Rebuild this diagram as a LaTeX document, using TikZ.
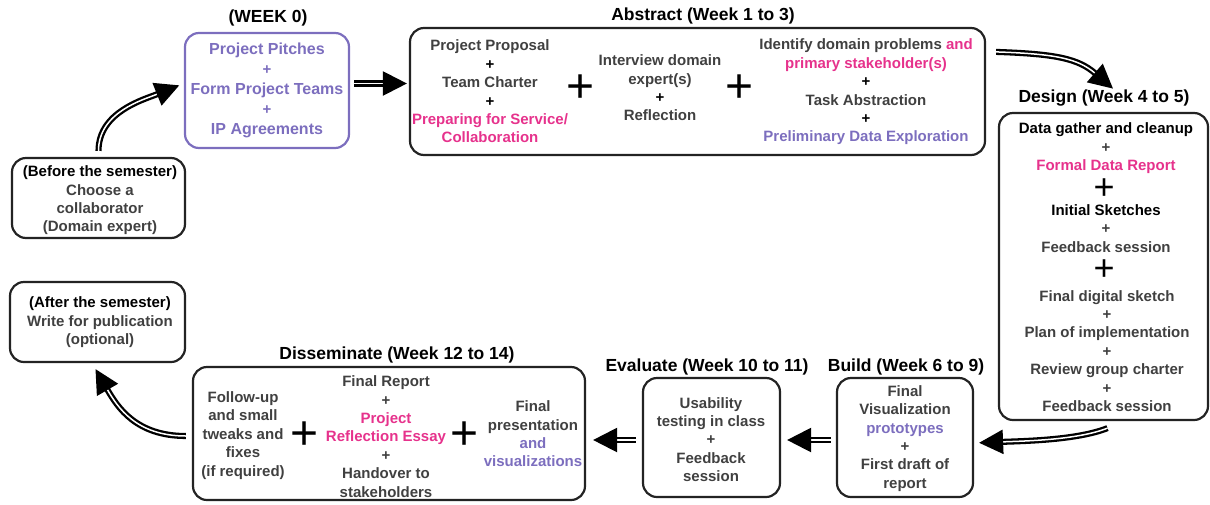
\documentclass[tikz,border=0pt]{standalone}
\usepackage{fontspec}
\setmainfont{Liberation Sans}
\usetikzlibrary{arrows.meta,calc}
\definecolor{vpurple}{RGB}{124,110,190}
\definecolor{vpink}{RGB}{230,50,140}
\definecolor{vgray}{RGB}{64,64,64}
\definecolor{vline}{RGB}{35,35,35}
\newcommand{\smallplus}{{\fontsize{15}{15}\selectfont +}}
\begin{document}
\begin{tikzpicture}[x=1pt,y=-1pt,
  box/.style={draw=vline, line width=2.2pt, rounded corners=14pt, inner sep=0pt},
  txt/.style={align=center, font=\bfseries\fontsize{15}{18.4}\selectfont, text=vgray, inner sep=0pt},
  ttl/.style={font=\bfseries\fontsize{17.5}{19}\selectfont, text=black, inner sep=0pt},
  bigplus/.style={font=\fontsize{48}{48}\selectfont, text=black, inner sep=0pt},
  arr/.style={draw=black, line width=2.3pt, double=white, double distance=1.5pt, -{Triangle[length=24pt,width=24pt]}},
]
\useasboundingbox (0,0) rectangle (1210,504);

% boxes
\node[box, minimum width=173pt, minimum height=80pt] (before) at (98.5,198) {};
\node[box, draw=vpurple, minimum width=164pt, minimum height=115pt] (week0) at (267,90.5) {};
\node[box, minimum width=575pt, minimum height=127pt] (abstract) at (697.5,91.5) {};
\node[box, minimum width=209pt, minimum height=307pt] (design) at (1103.5,266.5) {};
\node[box, minimum width=136pt, minimum height=119pt] (build) at (905,437.5) {};
\node[box, minimum width=137pt, minimum height=119pt] (evaluate) at (711.5,437.5) {};
\node[box, minimum width=392pt, minimum height=133pt] (dissem) at (389,433.5) {};
\node[box, minimum width=175pt, minimum height=80pt] (after) at (97.5,322) {};

% titles
\node[ttl] (t0) at (268,18) {(WEEK 0)};
\node[ttl] (tabs) at (703,16) {Abstract (Week 1 to 3)};
\node[ttl] (tdes) at (1104,98) {Design (Week 4 to 5)};
\node[ttl] (tbld) at (906,367) {Build (Week 6 to 9)};
\node[ttl] (teval) at (707,367) {Evaluate (Week 10 to 11)};
\node[ttl] (tdis) at (397,355) {Disseminate (Week 12 to 14)};

% before / after
\node[txt] (beforetxt) at (100,200.5) {\textcolor{black}{(Before the semester)}\\Choose a\\collaborator\\(Domain expert)};
\node[txt] (aftertxt) at (100,322.5) {\textcolor{black}{(After the semester)}\\Write for publication\\(optional)};

% week 0
\node[txt, text=vpurple, font=\bfseries\fontsize{16}{20}\selectfont] (w0txt) at (267,90) {Project Pitches\\\smallplus\\Form Project Teams\\\smallplus\\IP Agreements};

% abstract
\node[txt] (abs1) at (490,91.5) {Project Proposal\\\textcolor{black}{\smallplus}\\Team Charter\\\textcolor{black}{\smallplus}\\\textcolor{vpink}{Preparing for Service/}\\\textcolor{vpink}{Collaboration}};
\node[bigplus] (absp1) at (581,89) {+};
\node[txt] (abs2) at (660,88) {Interview domain\\expert(s)\\\textcolor{black}{\smallplus}\\Reflection};
\node[bigplus] (absp2) at (740,89) {+};
\node[txt] (abs3) at (866,92) {Identify domain problems \textcolor{vpink}{and}\\\textcolor{vpink}{primary stakeholder(s)}\\\textcolor{black}{\smallplus}\\Task Abstraction\\\textcolor{black}{\smallplus}\\\textcolor{vpurple}{Preliminary Data Exploration}};

% design
\node[txt] (des1) at (1106,148.5) {\textcolor{black}{Data gather and cleanup}\\\smallplus\\\textcolor{vpink}{Formal Data Report}};
\node[bigplus, font=\fontsize{36}{36}\selectfont] (desp1) at (1104,189) {+};
\node[txt] (des2) at (1106,228.5) {\textcolor{black}{Initial Sketches}\\\smallplus\\Feedback session};
\node[bigplus, font=\fontsize{36}{36}\selectfont] (desp2) at (1104,270) {+};
\node[txt] (des3) at (1107,351) {Final digital sketch\\\smallplus\\Plan of implementation\\\smallplus\\Review group charter\\\smallplus\\Feedback session};

% build / evaluate
\node[txt] (bldtxt) at (905,438.5) {Final\\Visualization\\\textcolor{vpurple}{prototypes}\\\smallplus\\First draft of\\report};
\node[txt] (evtxt) at (711,439.5) {Usability\\testing in class\\\smallplus\\Feedback\\session};

% disseminate
\node[txt] (dis1) at (243,435.5) {Follow-up\\and small\\tweaks and\\fixes\\(if required)};
\node[bigplus] (disp1) at (305,436) {+};
\node[txt] (dis2) at (386,436.5) {Final Report\\\smallplus\\\textcolor{vpink}{Project}\\\textcolor{vpink}{Reflection Essay}\\\smallplus\\Handover to\\stakeholders};
\node[bigplus] (disp2) at (465,436) {+};
\node[txt] (dis3) at (533,434) {Final\\presentation\\\textcolor{vpurple}{and}\\\textcolor{vpurple}{visualizations}};

% connector end points
\coordinate (w0in) at ([yshift=7pt]week0.west);
\coordinate (a2d) at ([xshift=10pt,yshift=-25pt]abstract.north east);
\coordinate (d2end) at ([xshift=9pt,yshift=1pt]tdes.north);
\coordinate (dsouth) at ([xshift=4pt,yshift=-7pt]design.south);
\coordinate (b2end) at ([yshift=-5.5pt]build.east);
\coordinate (dwest) at ([xshift=-6pt,yshift=-2.5pt]dissem.west);
\coordinate (a2end) at ([xshift=-2pt,yshift=-6pt]after.south);

% connectors
\draw[arr, shorten <=6pt, shorten >=5pt] (before.north) .. controls +(0,-45) and +(-40,16) .. (w0in);
\draw[arr, shorten <=4pt, shorten >=2pt] (w0in -| week0.east) -- (w0in -| abstract.west);
\draw[arr] (a2d) .. controls +(60,2) and +(-35,-30) .. (d2end);
\draw[arr, shorten >=5pt] (dsouth) .. controls +(-30,12) and +(50,-2) .. (b2end);
\draw[arr, shorten <=5pt, shorten >=6pt] ([yshift=-2.5pt]build.west) -- ([yshift=-2.5pt]build.west -| evaluate.east);
\draw[arr, shorten <=6pt, shorten >=7pt] ([yshift=-2.5pt]evaluate.west) -- ([yshift=-2.5pt]evaluate.west -| dissem.east);
\draw[arr] (dwest) .. controls +(-50,0) and +(22,38) .. (a2end);
\end{tikzpicture}
\end{document}
